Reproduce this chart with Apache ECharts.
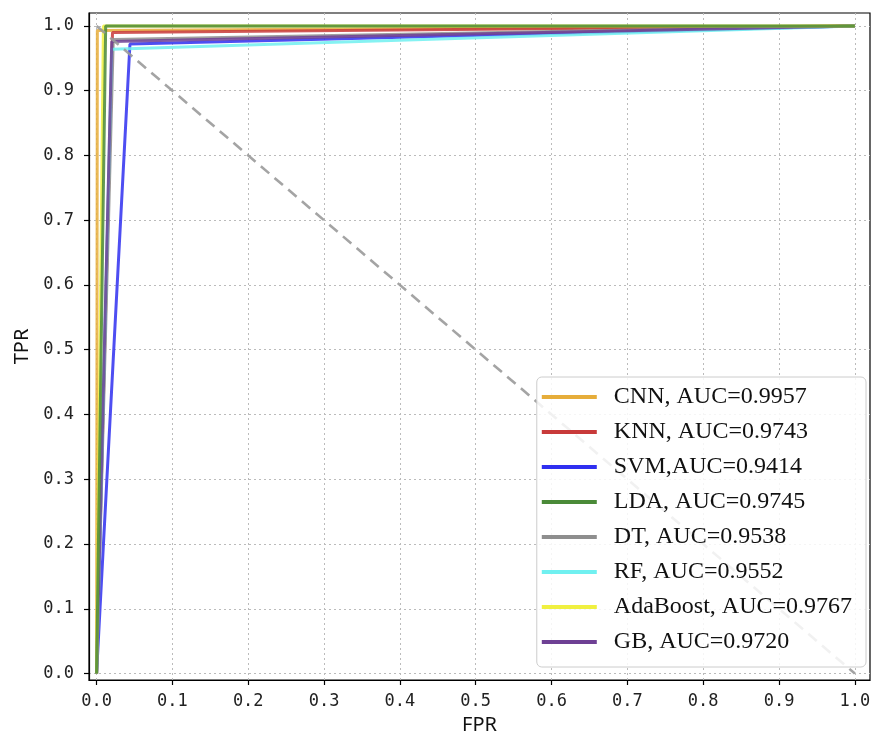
<!DOCTYPE html>
<html><head><meta charset="utf-8">
<script src="https://cdn.jsdelivr.net/npm/echarts@6/dist/echarts.min.js"></script>
<style>html,body{margin:0;padding:0;background:#fff}#c{width:874px;height:737px}</style>
</head><body><div id="c"></div>
<script>
const tickValues = [0,0.1,0.2,0.3,0.4,0.5,0.6,0.7,0.8,0.9,1.0];
const names = ['CNN, AUC=0.9957','KNN, AUC=0.9743','SVM,AUC=0.9414','LDA, AUC=0.9745','DT, AUC=0.9538','RF, AUC=0.9552','AdaBoost, AUC=0.9767','GB, AUC=0.9720'];
const cnn = [[0,0],[0.001,0.993],[1,1]];
const knn = [[0,0],[0.021,0.990],[1,1]];
const svm = [[0,0],[0.044,0.972],[1,1]];
const lda = [[0,0],[0.012,1.0],[1,1]];
const dt = [[0,0],[0.022,0.979],[1,1]];
const rf = [[0,0],[0.020,0.964],[1,1]];
const ada = [[0,0],[0.009,1.0],[1,1]];
const gb = [[0,0],[0.020,0.976],[1,1]];
const diag = [[0,1],[1,0]];
const colors = ['#e6ad3a','#c83a3a','#2f2ff0','#4a8a38','#8e8e8e','#70f0f0','#f0f040','#6e4094'];
const zOrder = [2,3,4,9,5,6,8,7];
const seriesData = [cnn,knn,svm,lda,dt,rf,ada,gb];

const chart = echarts.init(document.getElementById('c'));
const series = seriesData.map((d,i)=>({
  name: names[i], type:'line', data:d, symbol:'none', color: colors[i],
  lineStyle:{width:3, color:colors[i], opacity:0.85}, z: zOrder[i]
}));
series.push({name:'diag', type:'line', data:diag, symbol:'none',
  lineStyle:{width:2.6, color:'#9a9a9a', type:[11,7], opacity:0.9}, z:10});

const labelFont = {color:'#222', fontSize:17, fontFamily:'DejaVu Sans Mono'};
const axisCommon = {
  type:'value', min:-0.01, max:1.02,
  axisLine:{show:true, onZero:false, lineStyle:{color:'#000', width:1.2}},
  axisTick:{show:true, length:5, customValues:tickValues, lineStyle:{color:'#000', width:1.2}},
  splitLine:{show:true, lineStyle:{color:'#bbb', type:[2,3], width:1}},
  nameLocation:'middle', nameTextStyle:{color:'#111', fontSize:20, fontFamily:'Noto Sans'}
};

chart.setOption({
  animation:false,
  grid:{left:89, right:4, top:13, bottom:57, show:true, borderColor:'#000', borderWidth:1.2, backgroundColor:'transparent', outerBoundsMode:'none', containLabel:false},
  xAxis:Object.assign({}, axisCommon, {name:'FPR', nameGap:35,
    axisLabel:Object.assign({customValues:tickValues, formatter:v=>v.toFixed(1), margin:13}, labelFont)}),
  yAxis:Object.assign({}, axisCommon, {name:'TPR', nameGap:57,
    axisLabel:Object.assign({customValues:tickValues, formatter:v=>v.toFixed(1), margin:15}, labelFont)}),
  legend:{
    data: names, orient:'vertical', right:8, top:377, z:20,
    backgroundColor:'rgba(255,255,255,0.85)', borderColor:'#ccc', borderWidth:1, borderRadius:5,
    padding:[8,14,13,5], itemWidth:55, itemHeight:4, itemGap:11, icon:'rect',
    textStyle:{fontFamily:'Liberation Serif', fontSize:24, color:'#111', lineHeight:24, padding:[0,0,0,12]}
  },
  series
});
</script></body></html>
